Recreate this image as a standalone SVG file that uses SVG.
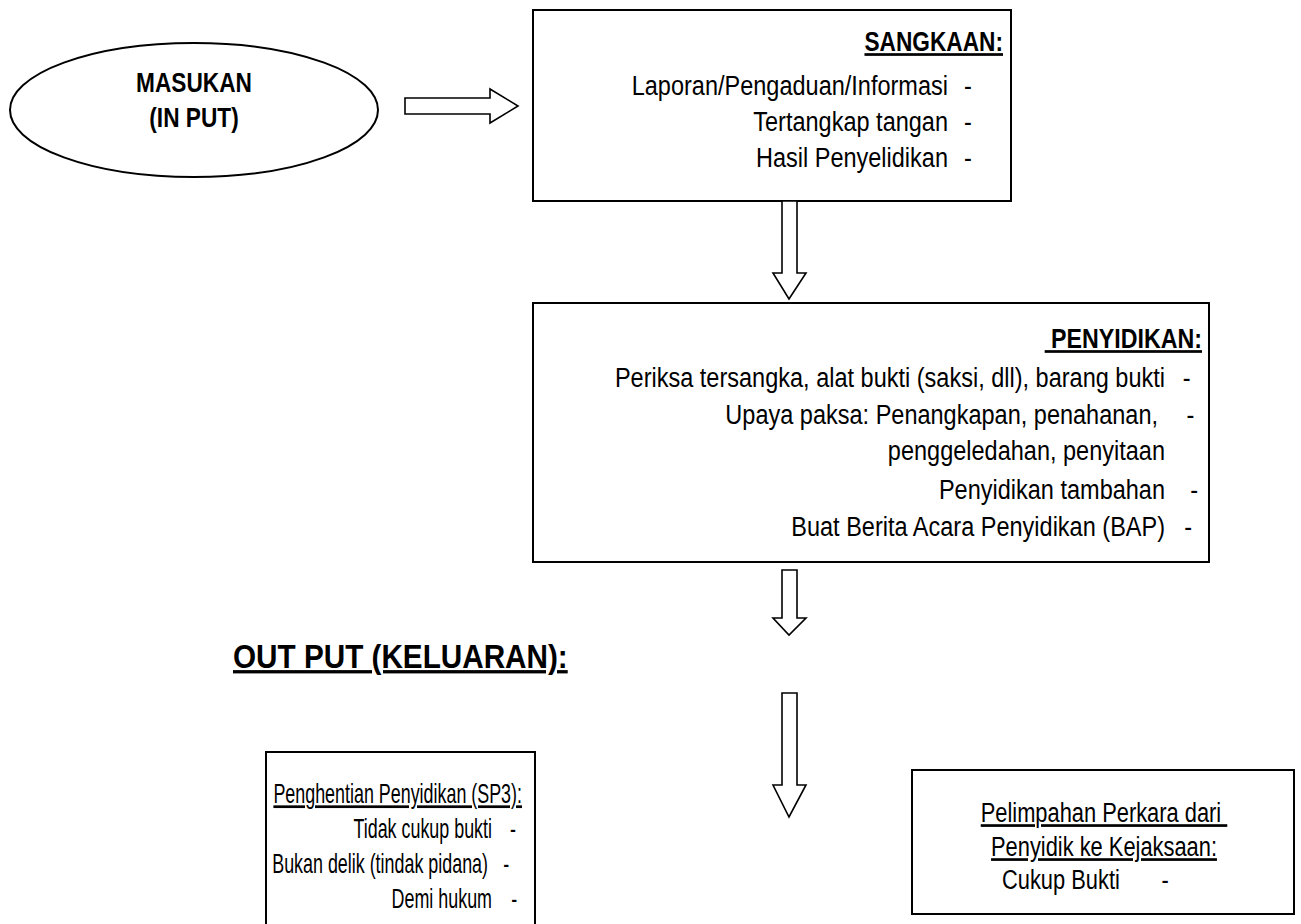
<svg xmlns="http://www.w3.org/2000/svg" width="1301" height="924" viewBox="0 0 1301 924">
<style>
.bg{fill:#fff}
.shape{fill:#fff;stroke:#000;stroke-width:2}
.arr{fill:#fff;stroke:#000;stroke-width:1.6;stroke-linejoin:miter}
.t{font-family:'Liberation Sans','Arial',sans-serif;font-size:28px;fill:#000}
.s3{font-size:27px}
.s4{font-size:27px}
.b{font-family:'Liberation Sans','Arial',sans-serif;font-size:27px;font-weight:bold;fill:#000}
.big{font-size:33px}
.u{text-decoration:underline}
.e{text-anchor:end}
.m{text-anchor:middle}
</style>
<rect class="bg" x="0" y="0" width="1301" height="924"/>
<g id="masukan">
<ellipse class="shape" cx="194" cy="110" rx="184" ry="67"/>
<text class="b m" transform="matrix(0.84 0 0 1 194 92)">MASUKAN</text>
<text class="b m" transform="matrix(0.84 0 0 1 194 127)">(IN PUT)</text>
</g>
<g id="sangkaan">
<rect class="shape" x="533" y="10" width="478" height="191"/>
<text class="b e u" transform="matrix(0.84 0 0 1 1003 51)">SANGKAAN:</text>
<text class="t" transform="matrix(0.84 0 0 1 948 95)"><tspan class="e" x="0" y="0">Laporan/Pengaduan/Informasi</tspan><tspan x="19" y="0">-</tspan></text>
<text class="t" transform="matrix(0.84 0 0 1 948 131)"><tspan class="e" x="0" y="0">Tertangkap tangan</tspan><tspan x="19" y="0">-</tspan></text>
<text class="t" transform="matrix(0.84 0 0 1 948 167)"><tspan class="e" x="0" y="0">Hasil Penyelidikan</tspan><tspan x="19" y="0">-</tspan></text>
</g>
<g id="penyidikan">
<rect class="shape" x="533" y="303" width="676" height="259"/>
<text class="b e u" transform="matrix(0.86 0 0 1 1202 348)" xml:space="preserve"> PENYIDIKAN:</text>
<text class="t" transform="matrix(0.84 0 0 1 1165 387)"><tspan class="e" x="0" y="0">Periksa tersangka, alat bukti (saksi, dll), barang bukti</tspan><tspan x="21" y="0">-</tspan></text>
<text class="t" transform="matrix(0.84 0 0 1 1158 424)"><tspan class="e" x="0" y="0">Upaya paksa: Penangkapan, penahanan,</tspan><tspan x="34" y="0">-</tspan></text>
<text class="t e" transform="matrix(0.84 0 0 1 1165 460)">penggeledahan, penyitaan</text>
<text class="t" transform="matrix(0.84 0 0 1 1165 499)"><tspan class="e" x="0" y="0">Penyidikan tambahan</tspan><tspan x="30" y="0">-</tspan></text>
<text class="t" transform="matrix(0.84 0 0 1 1165 536)"><tspan class="e" x="0" y="0">Buat Berita Acara Penyidikan (BAP)</tspan><tspan x="23" y="0">-</tspan></text>
</g>
<g id="output-label">
<text class="b big u" transform="matrix(0.9 0 0 1 233 668)">OUT PUT (KELUARAN):</text>
</g>
<g id="sp3">
<rect class="shape" x="266" y="752" width="269" height="180"/>
<text class="t s3 e u" transform="matrix(0.663 0 0 1 522 803)">Penghentian Penyidikan (SP3):</text>
<text class="t s3" transform="matrix(0.663 0 0 1 492 838)"><tspan class="e" x="0" y="0">Tidak cukup bukti</tspan><tspan x="27" y="0">-</tspan></text>
<text class="t s3" transform="matrix(0.663 0 0 1 488 873)"><tspan class="e" x="0" y="0">Bukan delik (tindak pidana)</tspan><tspan x="23" y="0">-</tspan></text>
<text class="t s3" transform="matrix(0.663 0 0 1 492 908)"><tspan class="e" x="0" y="0">Demi hukum</tspan><tspan x="29" y="0">-</tspan></text>
</g>
<g id="pelimpahan">
<rect class="shape" x="912" y="770" width="382" height="144"/>
<text class="t s4 m u" transform="matrix(0.81 0 0 1 1104 822)" xml:space="preserve">Pelimpahan Perkara dari </text>
<text class="t s4 m u" transform="matrix(0.81 0 0 1 1104 856)">Penyidik ke Kejaksaan:</text>
<text class="t s4" transform="matrix(0.81 0 0 1 1002 889)"><tspan x="0" y="0">Cukup Bukti</tspan><tspan x="197" y="0">-</tspan></text>
</g>
<g id="connectors">
<polygon class="arr" points="405,98 490,98 490,89 518,106 490,123 490,114 405,114"/>
<polygon class="arr" points="782,201 797,201 797,273 806,273 789,299 773,273 782,273"/>
<polygon class="arr" points="782,570 797,570 797,618 806,618 789,635 773,618 782,618"/>
<polygon class="arr" points="782,693 797,693 797,785 806,785 789,817 773,785 782,785"/>
</g>
</svg>
